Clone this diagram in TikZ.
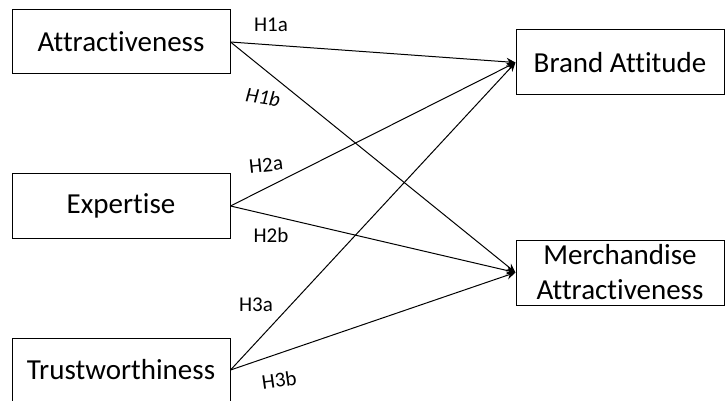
\documentclass[tikz,border=0pt]{standalone}
\usepackage{fontspec}
\setmainfont{Carlito}[Ligatures={NoCommon}]
\usetikzlibrary{arrows.meta}
\begin{document}
\begin{tikzpicture}[x=1pt,y=-1pt,
  box/.style={draw, line width=1pt, inner sep=0pt, font=\fontsize{29}{35}\selectfont, align=center},
  conn/.style={line width=1pt, -{Stealth[length=9pt,width=8pt]}},
  lab/.style={font=\fontsize{21}{25}\selectfont, inner sep=0pt}]
\useasboundingbox (0,0) rectangle (726,401);
\node[box, minimum width=218pt, minimum height=64pt] (A) at (121,42) {Attractiveness};
\node[box, minimum width=218pt, minimum height=64pt] (E) at (121,206) {Expertise};
\node[box, minimum width=218pt, minimum height=64pt] (T) at (121,370) {Trustworthiness};
\node[box, minimum width=208pt, minimum height=65pt] (B) at (620,62.5) {Brand Attitude};
\node[box, minimum width=208pt, minimum height=65pt] (M) at (620,272.5) {Merchandise\\Attractiveness};
\draw[conn] (A.east) -- (B.west);
\draw[conn] (A.east) -- (M.west);
\draw[conn] (E.east) -- (B.west);
\draw[conn] (E.east) -- (M.west);
\draw[conn] (T.east) -- (B.west);
\draw[conn] (T.east) -- (M.west);
\node[lab] (l1a) at (271,25) {H1a};
\node[lab, rotate=-8] (l1b) at (263,97) {\itshape H1b};
\node[lab, rotate=6] (l2a) at (266,165) {H2a};
\node[lab] (l2b) at (271,235) {H2b};
\node[lab] (l3a) at (256,305) {H3a};
\node[lab, rotate=8] (l3b) at (279,380) {H3b};
\end{tikzpicture}
\end{document}
